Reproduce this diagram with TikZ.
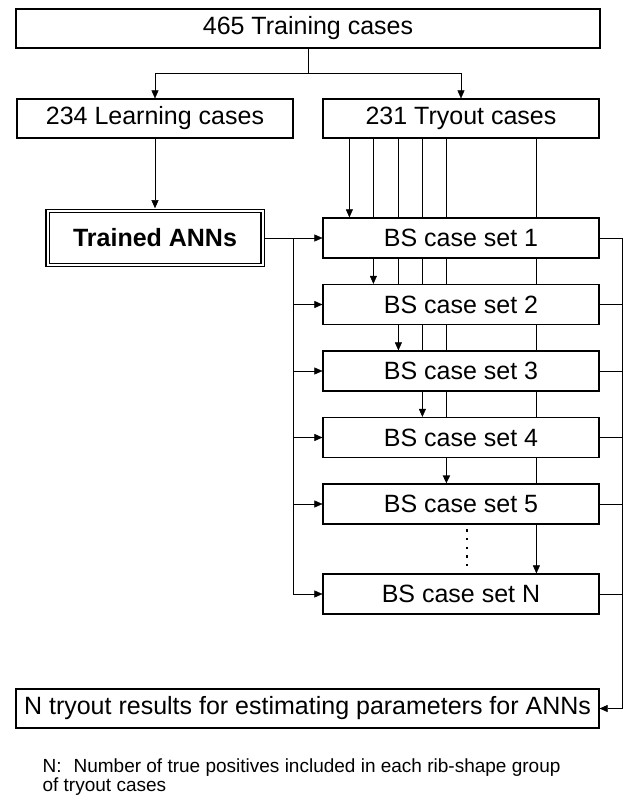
\documentclass[tikz,border=0pt]{standalone}
\usepackage{fontspec}
\setmainfont{Liberation Sans}
\usetikzlibrary{positioning,calc,arrows.meta,backgrounds}

\begin{document}
\begin{tikzpicture}[x=1pt,y=-1pt,line width=1.2pt,
    box/.style={draw, fill=white, inner sep=0pt, minimum height=39pt, font=\fontsize{25}{30}\selectfont},
    arr/.style={-{Triangle[length=8pt,width=7pt]}}]
    \useasboundingbox (0,0) rectangle (624,798);

    % Case split
    \node[box, minimum width=584pt] (train) at (308,28.5) {465 Training cases};
    \node[box, minimum width=276pt] (learn) at (155,118.5) {234 Learning cases};
    \node[box, minimum width=276pt] (tryout) at (461,118.5) {231 Tryout cases};
    \node[box, double, double distance=2pt, minimum width=215pt, minimum height=54pt,
          font=\fontsize{25}{30}\selectfont\bfseries] (anns) at (155,238) {Trained ANNs};

    % BS case sets
    \foreach \n/\y in {1/238, 2/304.5, 3/371, 4/437.5, 5/504, N/594}
        \node[box, minimum width=276pt, minimum height=40pt] (bs\n) at (461,\y) {BS case set \n};

    \node[box, minimum width=583pt] (result) at (307.5,708.5) {N tryout results for estimating parameters for ANNs};
    \node[anchor=north west, align=left, inner sep=0pt, font=\fontsize{19}{19}\selectfont] (note) at (42,758)
        {N:\hspace*{12pt}Number of true positives included in each rib-shape group\\of tryout cases};

    \begin{scope}[on background layer]
    \draw (train.south) -- ++(0,25) coordinate (split);
    \draw[arr] (split) -| (learn.north);
    \draw[arr] (split) -| (tryout.north);
    \draw[arr] (learn.south) -- ([yshift=2.2pt]anns.north);

    % Tryout cases down to each set
    \foreach \dx/\n in {27/1, 51/2, 76/3, 100/4, 214/N}
        \draw[arr] ([xshift=\dx pt]tryout.south west) -- ([xshift=\dx pt]bs\n.north west);
    \draw[arr, line width=1.7pt] ([xshift=124pt]tryout.south west) -- ([xshift=124pt]bs5.north west);
    \draw[line width=2.2pt, dash pattern=on 2.2pt off 6.5pt] ([xshift=6pt,yshift=4pt]bs5.south) -- ([xshift=6pt,yshift=-3pt]bsN.north);

    % Trained ANNs into each set
    \coordinate (branch) at (293,238);
    \draw[arr] ([xshift=2.2pt]anns.east) -- (bs1.west);
    \foreach \n in {2,3,4,5,N}
        \draw[arr] (branch) |- (bs\n.west);

    % Results collected on the right
    \coordinate (rail) at (622,238);
    \foreach \n in {1,2,3,4,5,N}
        \draw (bs\n.east) -- (bs\n.east -| rail);
    \draw[arr] (rail) |- (result.east);
    \end{scope}
\end{tikzpicture}
\end{document}
